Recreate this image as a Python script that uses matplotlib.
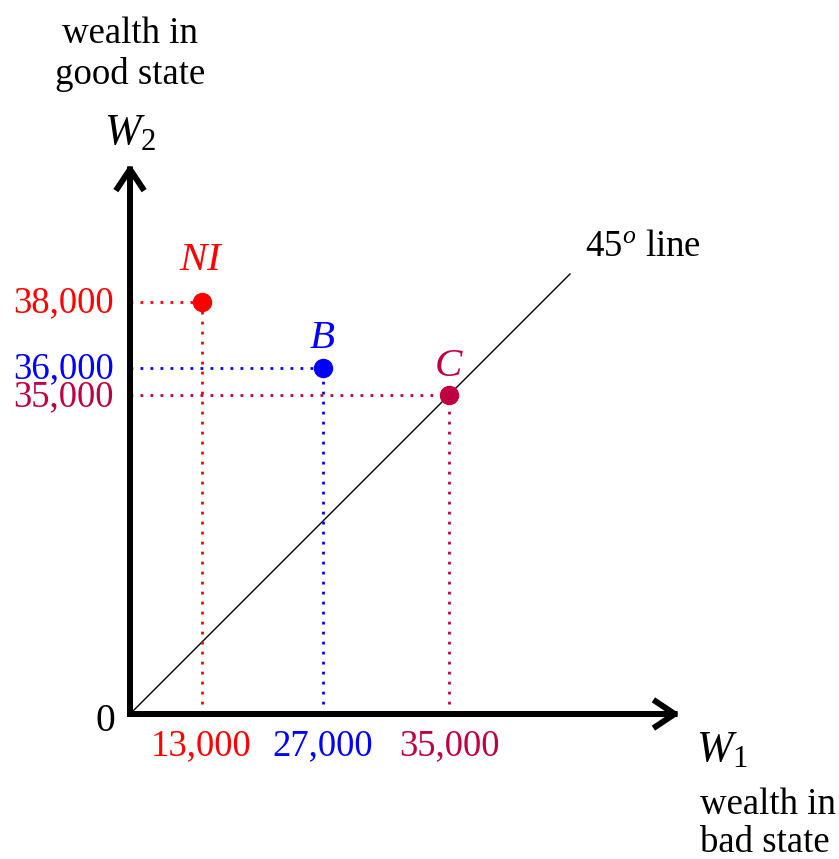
import matplotlib
matplotlib.use("Agg")
import matplotlib.pyplot as plt
from matplotlib.patches import FancyArrowPatch

plt.rcParams['font.family'] = ['Liberation Serif', 'DejaVu Serif']
plt.rcParams['mathtext.fontset'] = 'custom'
plt.rcParams['mathtext.rm'] = 'Liberation Serif'
plt.rcParams['mathtext.it'] = 'Liberation Serif:italic'

# Data: bundles (schematic diagram positions) and their wealth labels
names = ["NI", "B", "C"]
w1_labels = ["13,000", "27,000", "35,000"]
w2_labels = ["38,000", "36,000", "35,000"]
x_pos = [1.3, 3.5, 5.8]
y_pos = [7.5, 6.3, 5.8]
colors = ["#FF0000", "#0000FF", "#BF0040"]
label_lift = [0.75, 0.53, 0.52]
axis_len = 10.0
diag_end = 8.0

fig = plt.figure(figsize=(8.39, 8.59), dpi=100)
ax = fig.add_axes([0, 0, 1, 1])
u = 55.0
ax.set_xlim(-130 / u, (839 - 130) / u)
ax.set_ylim(-145 / u, (859 - 145) / u)
ax.axis('off')

fs = 26.5

# 45 degree line
ax.plot([0, diag_end], [0, diag_end], color='black', lw=1.0, zorder=2)
ax.text(diag_end + 0.28, diag_end + 0.5, r"45$^{o}$ line", fontsize=fs,
        ha='left', va='center')

# dotted guides and points
for n, xl, yl, x, y, c, lift in zip(names, w1_labels, w2_labels, x_pos, y_pos,
                                    colors, label_lift):
    ax.plot([0, x], [y, y], color=c, lw=2.0, linestyle=(0, (1, 2.6)), zorder=3)
    ax.plot([x, x], [0, y], color=c, lw=2.0, linestyle=(0, (1, 2.6)), zorder=3)
    ax.plot([x], [y], 'o', color=c, markersize=13, zorder=5)
    ax.text(x, y + lift, "$" + n + "$", color=c, fontsize=fs + 3,
            ha='center', va='center')
    ax.text(-0.3, y + 0.04, yl, color=c, fontsize=fs, ha='right',
            va='center_baseline')
    ax.text(x, -0.5, xl, color=c, fontsize=fs, ha='center', va='center_baseline')

# axes with arrows
for end in [(axis_len, 0), (0, axis_len)]:
    arr = FancyArrowPatch((0, 0), end, arrowstyle='->,head_length=0.45,head_width=0.3',
                          mutation_scale=30, lw=4.3, color='black', zorder=6,
                          shrinkA=0, shrinkB=0, capstyle='projecting')
    ax.add_patch(arr)
ax.plot([-0.06, axis_len - 0.1], [0, 0], color='black', lw=4.3, zorder=6,
        solid_capstyle='butt')
ax.plot([0, 0], [-0.06, axis_len - 0.1], color='black', lw=4.3, zorder=6,
        solid_capstyle='butt')

ax.text(-0.45, -0.05, "0", fontsize=fs + 2, ha='center', va='center_baseline')
ax.text(0, 10.57, "$W_2$", fontsize=fs + 5, ha='center', va='center')
ax.text(0, 12.0, "wealth in\ngood state", fontsize=fs,
        ha='center', va='center', linespacing=1.22)
ax.text(10.76, -0.65, "$W_1$", fontsize=fs + 5, ha='center', va='center')
ax.text(10.36, -2.0, "wealth in\nbad state", fontsize=fs,
        ha='left', va='center', linespacing=1.15)

fig.savefig("out.png", dpi=100)
